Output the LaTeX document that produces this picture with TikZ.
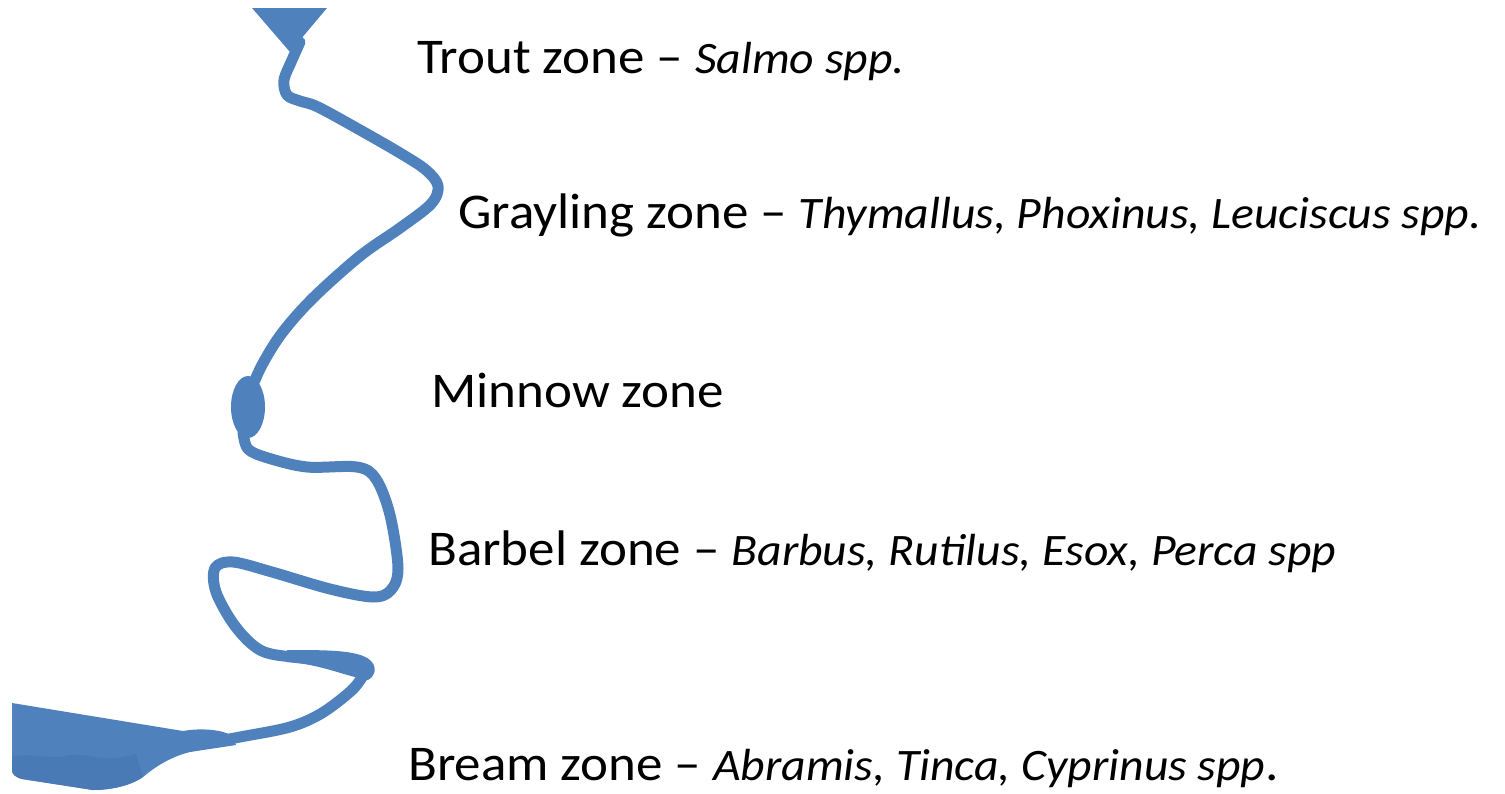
\documentclass[tikz,border=0pt]{standalone}
\usepackage{fontspec}
\setmainfont[FakeStretch=1.06]{Carlito}
\definecolor{river}{HTML}{4F81BD}
\definecolor{riverdark}{HTML}{4A7AB6}
\newcommand{\zonefont}{\fontsize{50}{60}\selectfont}
\newcommand{\speciesfont}{\fontsize{45}{54}\selectfont\itshape}
\begin{document}
\begin{tikzpicture}[x=1pt,y=-1pt,
  zone/.style={anchor=base west,inner sep=0pt,font=\zonefont,text=black},
  stream/.style={draw=river,line width=11pt,line cap=round,line join=round}]
\useasboundingbox (0,0) rectangle (1505,793);

% source of the river
\fill[river] (252,8) -- (327,8) -- (290,52) -- cycle;

% upper course down to the pool
\draw[stream] plot[smooth,tension=0.55] coordinates {
  (300,42) (292,60) (284,80) (287,95) (300,101) (318,107) (360,130)
  (400,153) (426,170) (438,186) (431,204) (400,228) (360,256)
  (313,298) (282,333) (262,365) (250,392)};

% pool
\fill[river] (248,407) ellipse [x radius=17, y radius=31];

% middle course with its meanders
\draw[stream] plot[smooth,tension=0.55] coordinates {
  (243,432) (248,449) (268,458) (307,467) (357,467) (376,479)
  (390,515) (398,568) (391,590) (373,597) (330,589) (272,572) (233,562)
  (215,568) (216,592) (235,626) (260,650) (292,657) (345,661)};

% widened bend before the lower course
\fill[river] (287,650) .. controls (330,650) and (362,650) .. (372,662)
  .. controls (378,670) and (373,678) .. (368,680)
  .. controls (345,676) and (320,664) .. (287,662) -- cycle;

% lower course into the estuary
\draw[stream] plot[smooth,tension=0.55] coordinates {
  (364,674) (352,690) (322,713) (290,727) (240,737) (185,747)};

% estuary
\fill[river] (12,703) -- (183,731)
  .. controls (205,727) and (228,731) .. (233,737)
  -- (236,745) -- (190,752)
  .. controls (170,757) and (155,767) .. (143,777)
  .. controls (130,786) and (110,790) .. (93,790)
  -- (22,779) .. controls (15,777) and (12,774) .. (12,770) -- cycle;
\fill[riverdark] (12,757) .. controls (30,752) and (50,760) .. (65,756)
  .. controls (80,752) and (100,760) .. (115,758)
  .. controls (125,757) and (132,755) .. (136,754)
  -- (143,777)
  .. controls (130,786) and (110,790) .. (93,790)
  -- (22,779) .. controls (15,777) and (12,774) .. (12,770) -- cycle;

% zone labels
\node[zone] (trout) at (417,73) {Trout zone – {\speciesfont Salmo spp.}};
\node[zone] (grayling) at (458,228) {Grayling zone – {\speciesfont Thymallus, Phoxinus, Leuciscus spp.}};
\node[zone] (minnow) at (431,407) {Minnow zone};
\node[zone] (barbel) at (428,565) {Barbel zone – {\speciesfont Barbus, Rutilus, Esox, Perca spp}};
\node[zone] (bream) at (408,780) {Bream zone – {\speciesfont Abramis, Tinca, Cyprinus spp}.};
\end{tikzpicture}
\end{document}
